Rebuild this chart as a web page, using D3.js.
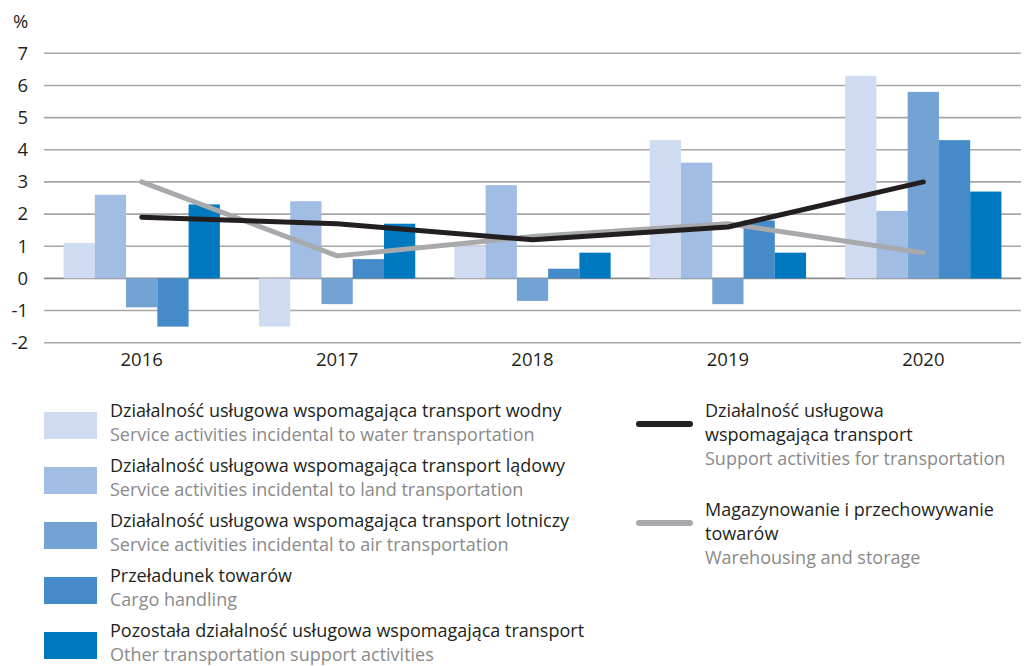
<!DOCTYPE html>
<html>
<head>
<meta charset="utf-8">
<style>
  body { margin: 0; background: #fff; }
  svg { font-family: "Open Sans", "Noto Sans", sans-serif; }
  .pl { fill: #231f20; }
  .en { fill: #8a8a8a; }
</style>
</head>
<body>
<svg id="chart" width="1024" height="666"></svg>
<script src="https://cdn.jsdelivr.net/npm/d3@7"></script>
<script>
var years = ["2016", "2017", "2018", "2019", "2020"];
var yTicks = [-2, -1, 0, 1, 2, 3, 4, 5, 6, 7];

var water = [1.1, -1.5, 1.0, 4.3, 6.3];
var land = [2.6, 2.4, 2.9, 3.6, 2.1];
var air = [-0.9, -0.8, -0.7, -0.8, 5.8];
var cargo = [-1.5, 0.6, 0.3, 1.8, 4.3];
var other = [2.3, 1.7, 0.8, 0.8, 2.7];
var support = [1.9, 1.7, 1.2, 1.6, 3.0];
var warehouse = [3.0, 0.7, 1.3, 1.7, 0.8];

var barSeries = [
  { pl: "Działalność usługowa wspomagająca transport wodny", en: "Service activities incidental to water transportation", color: "#cfdbf0", values: water },
  { pl: "Działalność usługowa wspomagająca transport lądowy", en: "Service activities incidental to land transportation", color: "#a1bde3", values: land },
  { pl: "Działalność usługowa wspomagająca transport lotniczy", en: "Service activities incidental to air transportation", color: "#73a2d5", values: air },
  { pl: "Przeładunek towarów", en: "Cargo handling", color: "#458bc9", values: cargo },
  { pl: "Pozostała działalność usługowa wspomagająca transport", en: "Other transportation support activities", color: "#0079c1", values: other }
];
var lineSeries = [
  { pl: ["Działalność usługowa", "wspomagająca transport"], en: "Support activities for transportation", color: "#231f20", values: support },
  { pl: ["Magazynowanie i przechowywanie", "towarów"], en: "Warehousing and storage", color: "#a7a9ac", values: warehouse }
];

var svg = d3.select("#chart");
var left = 44, right = 1021;
var fs = 18;

var y = d3.scaleLinear().domain([-2, 7]).range([342.7, 53.3]);
var x0 = d3.scaleBand().domain(years).range([left, right]).paddingInner(0.2).paddingOuter(0.1);
var x1 = d3.scaleBand().domain(d3.range(barSeries.length)).range([0, x0.bandwidth()]);

// grid
svg.append("g").selectAll("line")
  .data(yTicks)
  .enter().append("line")
  .attr("x1", left).attr("x2", right)
  .attr("y1", function(d){ return y(d); })
  .attr("y2", function(d){ return y(d); })
  .attr("stroke", function(d){ return d === 0 ? "#8c8c8c" : "#a6a6a6"; })
  .attr("stroke-width", 1.6);

// y axis labels
var yAxis = d3.axisLeft(y).tickValues(yTicks).tickSize(0).tickPadding(0)
  .tickFormat(function(d){ return d < 0 ? "-" + Math.abs(d) : String(d); });
var ya = svg.append("g").attr("transform", "translate(28,0)").call(yAxis);
ya.select(".domain").remove();
ya.selectAll("text").attr("font-size", 18.5).attr("fill", "#231f20")
  .attr("font-family", "\"Open Sans\", sans-serif");

svg.append("text").attr("x", 13).attr("y", 28).attr("font-size", 18.5).attr("class", "pl").text("%");

// x axis labels
var xAxis = d3.axisBottom(x0).tickSize(0).tickPadding(0);
var xa = svg.append("g").attr("transform", "translate(0,353)").call(xAxis);
xa.select(".domain").remove();
xa.selectAll("text").attr("font-size", 18.5).attr("fill", "#231f20")
  .attr("font-family", "\"Open Sans\", sans-serif");

// bars
var groups = svg.append("g").selectAll("g")
  .data(years)
  .enter().append("g")
  .attr("transform", function(d){ return "translate(" + x0(d) + ",0)"; });

groups.selectAll("rect")
  .data(function(d, i){
    return barSeries.map(function(s, k){ return { k: k, v: s.values[i], color: s.color }; });
  })
  .enter().append("rect")
  .attr("x", function(d){ return x1(d.k); })
  .attr("width", x1.bandwidth())
  .attr("y", function(d){ return y(Math.max(0, d.v)); })
  .attr("height", function(d){ return Math.abs(y(d.v) - y(0)); })
  .attr("fill", function(d){ return d.color; });

// lines
var line = d3.line()
  .x(function(d, i){ return x0(years[i]) + x0.bandwidth() / 2; })
  .y(function(d){ return y(d); });

[1, 0].forEach(function(k){
  var s = lineSeries[k];
  svg.append("path")
    .attr("d", line(s.values))
    .attr("fill", "none")
    .attr("stroke", s.color)
    .attr("stroke-width", 5)
    .attr("stroke-linecap", "round")
    .attr("stroke-linejoin", "round");
});

// legend - bars
var leg = svg.append("g");
barSeries.forEach(function(s, i){
  var top = 412 + i * 55;
  leg.append("rect").attr("x", 44).attr("y", top).attr("width", 53).attr("height", 27).attr("fill", s.color);
  leg.append("text").attr("class", "pl").attr("x", 110).attr("y", top + 5).attr("font-size", fs).text(s.pl);
  leg.append("text").attr("class", "en").attr("x", 110).attr("y", top + 29).attr("font-size", fs).text(s.en);
});

// legend - lines
lineSeries.forEach(function(s, i){
  var top = 400 + i * 99;
  leg.append("line").attr("x1", 639).attr("x2", 690)
    .attr("y1", top + 24).attr("y2", top + 24)
    .attr("stroke", s.color).attr("stroke-width", 6).attr("stroke-linecap", "round");
  s.pl.forEach(function(t, j){
    leg.append("text").attr("class", "pl").attr("x", 705).attr("y", top + 17 + j * 24).attr("font-size", fs).text(t);
  });
  leg.append("text").attr("class", "en").attr("x", 705).attr("y", top + 17 + s.pl.length * 24).attr("font-size", fs).text(s.en);
});
</script>
</body>
</html>
